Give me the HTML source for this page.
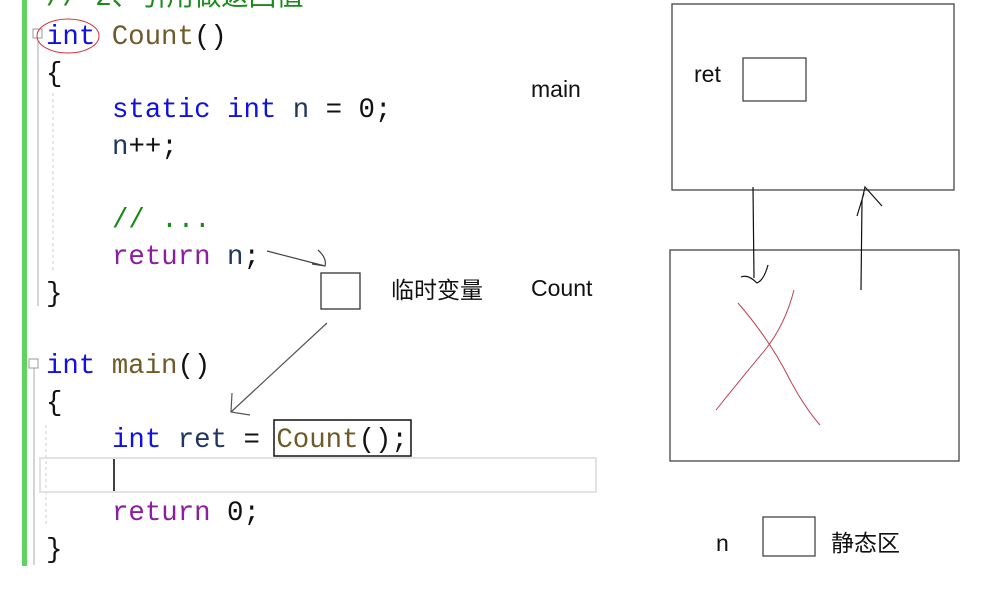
<!DOCTYPE html>
<html><head><meta charset="utf-8"><style>
body{margin:0;background:#fff}
svg{display:block}
.c{font-family:"Liberation Mono","Noto Sans CJK SC",monospace;font-size:27.4px}
.s{font-family:"Liberation Sans","Noto Sans CJK SC",sans-serif;font-size:23px;fill:#111}
</style></head><body>
<svg width="990" height="596" viewBox="0 0 990 596">
<rect x="22" y="0" width="5" height="566" fill="#5fd35f"/>
<line x1="38" y1="40" x2="38" y2="306" stroke="#aaa" stroke-width="1"/>
<line x1="34" y1="360" x2="34" y2="565" stroke="#aaa" stroke-width="1"/>
<line x1="53" y1="93" x2="53" y2="270" stroke="#ccc" stroke-dasharray="3,3"/>
<line x1="46" y1="425" x2="46" y2="525" stroke="#ccc" stroke-dasharray="3,3"/>
<rect x="33" y="29" width="9" height="9" fill="#fff" stroke="#999"/>
<rect x="29" y="359" width="9" height="9" fill="#fff" stroke="#999"/>
<rect x="40" y="458" width="556" height="34" fill="none" stroke="#e2e2e2" stroke-width="2"/>
<line x1="114" y1="459" x2="114" y2="491" stroke="#000" stroke-width="1.5"/>
<text class="c" x="46" y="5" fill="#1a8a1a">// 2、引用做返回值</text>
<g class="c">
<text x="46" y="44"><tspan fill="#1010e0">int</tspan><tspan fill="#6f5b2a"> Count</tspan><tspan fill="#111">()</tspan></text>
<text x="46" y="81" fill="#111">{</text>
<text x="112" y="117"><tspan fill="#1010e0">static int</tspan><tspan fill="#1f3760"> n</tspan><tspan fill="#111"> = 0;</tspan></text>
<text x="112" y="154"><tspan fill="#1f3760">n</tspan><tspan fill="#111">++;</tspan></text>
<text x="112" y="227" fill="#1a8a1a">// ...</text>
<text x="112" y="264"><tspan fill="#8a1fa0">return</tspan><tspan fill="#1f3760"> n</tspan><tspan fill="#111">;</tspan></text>
<text x="46" y="301" fill="#111">}</text>
<text x="46" y="373"><tspan fill="#1010e0">int</tspan><tspan fill="#6f5b2a"> main</tspan><tspan fill="#111">()</tspan></text>
<text x="46" y="410" fill="#111">{</text>
<text x="112" y="447"><tspan fill="#1010e0">int</tspan><tspan fill="#1f3760"> ret</tspan><tspan fill="#111"> = </tspan><tspan fill="#6f5b2a">Count</tspan><tspan fill="#111">();</tspan></text>
<text x="112" y="520"><tspan fill="#8a1fa0">return</tspan><tspan fill="#111"> 0;</tspan></text>
<text x="46" y="557" fill="#111">}</text>
</g>
<ellipse cx="68" cy="36" rx="31" ry="17" fill="none" stroke="#d03040" stroke-width="1"/>
<rect x="274" y="420" width="137" height="36" fill="none" stroke="#111" stroke-width="1.5"/>
<path d="M267 251 L325 266 M318 250 Q327 258 325 266 L312 264" fill="none" stroke="#444" stroke-width="1.2"/>
<rect x="321" y="273" width="39" height="36" fill="none" stroke="#333" stroke-width="1.3"/>
<text class="s" x="391" y="298">临时变量</text>
<path d="M327 323 L231 412 M232 393 L231 412 L250 415" fill="none" stroke="#555" stroke-width="1.2"/>
<text class="s" x="531" y="97">main</text>
<text class="s" x="531" y="296">Count</text>
<rect x="672" y="4" width="282" height="186" fill="none" stroke="#444" stroke-width="1.3"/>
<text class="s" x="694" y="82">ret</text>
<rect x="743" y="58" width="63" height="43" fill="none" stroke="#444" stroke-width="1.3"/>
<rect x="670" y="250" width="289" height="211" fill="none" stroke="#444" stroke-width="1.3"/>
<path d="M753 187 L754 278 M741 277 Q748 274 757 283 Q764 280 768 265" fill="none" stroke="#111" stroke-width="1.2"/>
<path d="M861 290 L862 200 L865 187 L882 206 M857 216 L864 193" fill="none" stroke="#111" stroke-width="1.2"/>
<path d="M738 303 Q770 340 790 380 Q805 408 820 425 M794 290 Q785 325 765 350 Q740 380 716 410" fill="none" stroke="#c04050" stroke-width="1"/>
<text class="s" x="716" y="551">n</text>
<rect x="763" y="517" width="52" height="39" fill="none" stroke="#444" stroke-width="1.3"/>
<text class="s" x="831" y="551">静态区</text>
</svg>
</body></html>
